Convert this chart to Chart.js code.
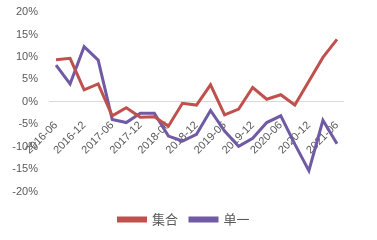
<!DOCTYPE html>
<html>
<head>
<meta charset="utf-8">
<script src="https://cdn.jsdelivr.net/npm/chart.js@4/dist/chart.umd.min.js"></script>
<style>
  html, body { margin: 0; padding: 0; background: #fff; }
  #wrap { width: 377px; height: 240px; }
</style>
</head>
<body>
<div id="wrap"><canvas id="lineChart"></canvas></div>
<script>
// quarterly points, label shown every other quarter
var quarters = [
    "2016-06", "2016-09", "2016-12", "2017-03", "2017-06", "2017-09", "2017-12",
    "2018-03", "2018-06", "2018-09", "2018-12", "2019-03", "2019-06", "2019-09",
    "2019-12", "2020-03", "2020-06", "2020-09", "2020-12", "2021-03", "2021-06"
];
var jiheValues = [9.4, 9.7, 2.7, 4.0, -3.1, -1.3, -3.4, -3.3, -5.4, -0.3, -0.7,
    3.8, -2.9, -1.6, 3.2, 0.6, 1.6, -0.7, 4.6, 9.9, 13.9];
var danyiValues = [8.2, 4.0, 12.3, 9.3, -3.9, -4.6, -2.5, -2.5, -7.6, -8.7, -7.2,
    -1.9, -6.5, -9.9, -8.1, -4.6, -3.1, -9.4, -15.3, -4.1, -9.3];
var yTicks = [20, 15, 10, 5, 0, -5, -10, -15, -20];

var tickFont = { family: "'Liberation Sans', Arial, sans-serif", size: 11 };
var gray = '#595959';

var data = {
    labels: quarters,
    datasets: [{
        label: '集合',
        data: jiheValues,
        borderColor: '#C0504D',
        backgroundColor: '#C0504D',
        borderWidth: 3,
        pointRadius: 0,
        tension: 0
    }, {
        label: '单一',
        data: danyiValues,
        borderColor: '#6F5AA3',
        backgroundColor: '#6F5AA3',
        borderWidth: 3,
        pointRadius: 0,
        tension: 0
    }]
};

// nudge the legend to the right like in the original
var shiftLegend = {
    id: 'shiftLegend',
    afterLayout: function (chart) {
        chart.legend.left += 6;
        chart.legend.right += 6;
    }
};

var options = {
    responsive: true,
    maintainAspectRatio: false,
    animation: false,
    layout: { padding: { top: 12, left: 12, right: 33, bottom: 4 } },
    plugins: {
        legend: {
            position: 'bottom',
            // empty title only to keep a gap between plot and legend
            title: { display: true, text: ' ', font: { size: 1 }, padding: { top: 0, bottom: 8 } },
            labels: {
                boxWidth: 27,
                boxHeight: 3,
                padding: 12,
                color: gray,
                font: { family: "'Noto Sans CJK SC', sans-serif", size: 13 }
            }
        },
        tooltip: { enabled: false }
    },
    scales: {
        x: {
            position: { y: 0 },
            offset: true,
            grid: { display: false, drawTicks: false },
            border: { display: false },
            afterFit: function (axis) {
                axis.paddingLeft = 0;
                axis.paddingRight = 0;
            },
            ticks: {
                autoSkip: false,
                maxRotation: 45,
                minRotation: 45,
                padding: 17,
                color: gray,
                font: tickFont,
                callback: function (value, index) {
                    return index % 2 === 0 ? quarters[index] : '';
                }
            }
        },
        y: {
            min: -20,
            max: 20,
            afterBuildTicks: function (axis) {
                axis.ticks = yTicks.map(function (v) { return { value: v }; });
            },
            afterFit: function (axis) {
                axis.width = 37;
                axis.paddingTop = 0;
                axis.paddingBottom = 0;
            },
            grid: {
                drawTicks: false,
                color: function (ctx) {
                    return ctx.tick && ctx.tick.value === 0 ? '#D9D9D9' : 'rgba(0,0,0,0)';
                }
            },
            border: { display: false },
            ticks: {
                padding: 11,
                color: gray,
                font: tickFont,
                callback: function (value) { return value + '%'; }
            }
        }
    }
};

var myLineChart = new Chart(document.getElementById('lineChart'), {
    type: 'line',
    data: data,
    options: options,
    plugins: [shiftLegend]
});
</script>
</body>
</html>
